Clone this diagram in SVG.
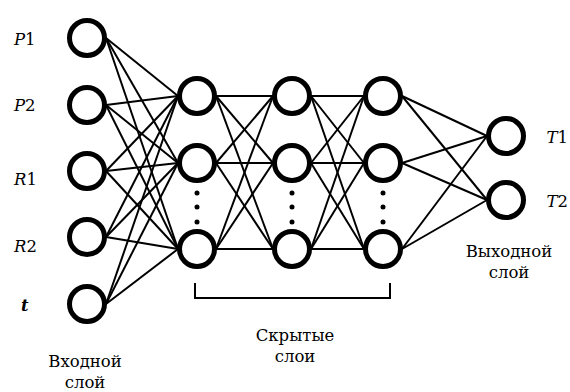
<svg xmlns="http://www.w3.org/2000/svg" width="570" height="392" viewBox="0 0 570 392">
<style>
.n{fill:#fff;stroke:#000;stroke-width:5}
.c line{stroke:#000;stroke-width:2}
.d{fill:#000}
</style>
<rect width="570" height="392" fill="#fff"/>
<g id="connectors" class="c">
<line x1="106" y1="38" x2="178" y2="96"/><line x1="106" y1="38" x2="178" y2="163"/><line x1="106" y1="38" x2="178" y2="249"/>
<line x1="106" y1="105" x2="178" y2="96"/><line x1="106" y1="105" x2="178" y2="163"/><line x1="106" y1="105" x2="178" y2="249"/>
<line x1="106" y1="171" x2="178" y2="96"/><line x1="106" y1="171" x2="178" y2="163"/><line x1="106" y1="171" x2="178" y2="249"/>
<line x1="106" y1="237" x2="178" y2="96"/><line x1="106" y1="237" x2="178" y2="163"/><line x1="106" y1="237" x2="178" y2="249"/>
<line x1="106" y1="304" x2="178" y2="96"/><line x1="106" y1="304" x2="178" y2="163"/><line x1="106" y1="304" x2="178" y2="249"/>
<line x1="216" y1="96" x2="273" y2="96"/><line x1="216" y1="96" x2="273" y2="163"/><line x1="216" y1="96" x2="273" y2="249"/>
<line x1="216" y1="163" x2="273" y2="96"/><line x1="216" y1="163" x2="273" y2="163"/><line x1="216" y1="163" x2="273" y2="249"/>
<line x1="216" y1="249" x2="273" y2="96"/><line x1="216" y1="249" x2="273" y2="163"/><line x1="216" y1="249" x2="273" y2="249"/>
<line x1="311" y1="96" x2="364" y2="96"/><line x1="311" y1="96" x2="364" y2="163"/><line x1="311" y1="96" x2="364" y2="249"/>
<line x1="311" y1="163" x2="364" y2="96"/><line x1="311" y1="163" x2="364" y2="163"/><line x1="311" y1="163" x2="364" y2="249"/>
<line x1="311" y1="249" x2="364" y2="96"/><line x1="311" y1="249" x2="364" y2="163"/><line x1="311" y1="249" x2="364" y2="249"/>
<line x1="402" y1="96" x2="487" y2="136"/><line x1="402" y1="96" x2="487" y2="200"/>
<line x1="402" y1="163" x2="487" y2="136"/><line x1="402" y1="163" x2="487" y2="200"/>
<line x1="402" y1="249" x2="487" y2="136"/><line x1="402" y1="249" x2="487" y2="200"/>
</g>
<g style="font-family:'DejaVu Serif','Liberation Serif',serif;font-size:16.5px" fill="#000">
<g id="in-P1"><circle class="n" cx="87" cy="38" r="17.5"/><text x="14" y="45"><tspan font-style="italic">P</tspan>1</text></g>
<g id="in-P2"><circle class="n" cx="87" cy="105" r="17.5"/><text x="14" y="111"><tspan font-style="italic">P</tspan>2</text></g>
<g id="in-R1"><circle class="n" cx="87" cy="171" r="17.5"/><text x="14" y="185"><tspan font-style="italic">R</tspan>1</text></g>
<g id="in-R2"><circle class="n" cx="87" cy="237" r="17.5"/><text x="14" y="252"><tspan font-style="italic">R</tspan>2</text></g>
<g id="in-t"><circle class="n" cx="87" cy="304" r="17.5"/><text x="21" y="311" font-style="italic" font-weight="bold">t</text></g>
<g id="h1-1"><circle class="n" cx="197" cy="96" r="17.5"/></g>
<g id="h1-2"><circle class="n" cx="197" cy="163" r="17.5"/></g>
<g id="h1-3"><circle class="n" cx="197" cy="249" r="17.5"/></g>
<g id="h2-1"><circle class="n" cx="292" cy="96" r="17.5"/></g>
<g id="h2-2"><circle class="n" cx="292" cy="163" r="17.5"/></g>
<g id="h2-3"><circle class="n" cx="292" cy="249" r="17.5"/></g>
<g id="h3-1"><circle class="n" cx="383" cy="96" r="17.5"/></g>
<g id="h3-2"><circle class="n" cx="383" cy="163" r="17.5"/></g>
<g id="h3-3"><circle class="n" cx="383" cy="249" r="17.5"/></g>
<g id="dots">
<circle class="d" cx="197" cy="193" r="2.5"/><circle class="d" cx="197" cy="207" r="2.5"/><circle class="d" cx="197" cy="222" r="2.5"/>
<circle class="d" cx="292" cy="193" r="2.5"/><circle class="d" cx="292" cy="207" r="2.5"/><circle class="d" cx="292" cy="222" r="2.5"/>
<circle class="d" cx="383" cy="193" r="2.5"/><circle class="d" cx="383" cy="207" r="2.5"/><circle class="d" cx="383" cy="222" r="2.5"/>
</g>
<g id="out-T1"><circle class="n" cx="506" cy="136" r="17.5"/><text x="568" y="143" text-anchor="end"><tspan font-style="italic">T</tspan>1</text></g>
<g id="out-T2"><circle class="n" cx="506" cy="200" r="17.5"/><text x="568" y="207" text-anchor="end"><tspan font-style="italic">T</tspan>2</text></g>
<g id="bracket"><path d="M195 283V298H390V283" fill="none" stroke="#000" stroke-width="2"/></g>
<g id="label-input" text-anchor="middle"><text x="85" y="367">Входной</text><text x="85" y="388">слой</text></g>
<g id="label-hidden" text-anchor="middle"><text x="295" y="341">Скрытые</text><text x="295" y="362">слои</text></g>
<g id="label-output" text-anchor="middle"><text x="509" y="257">Выходной</text><text x="509" y="278">слой</text></g>
</g>
</svg>
